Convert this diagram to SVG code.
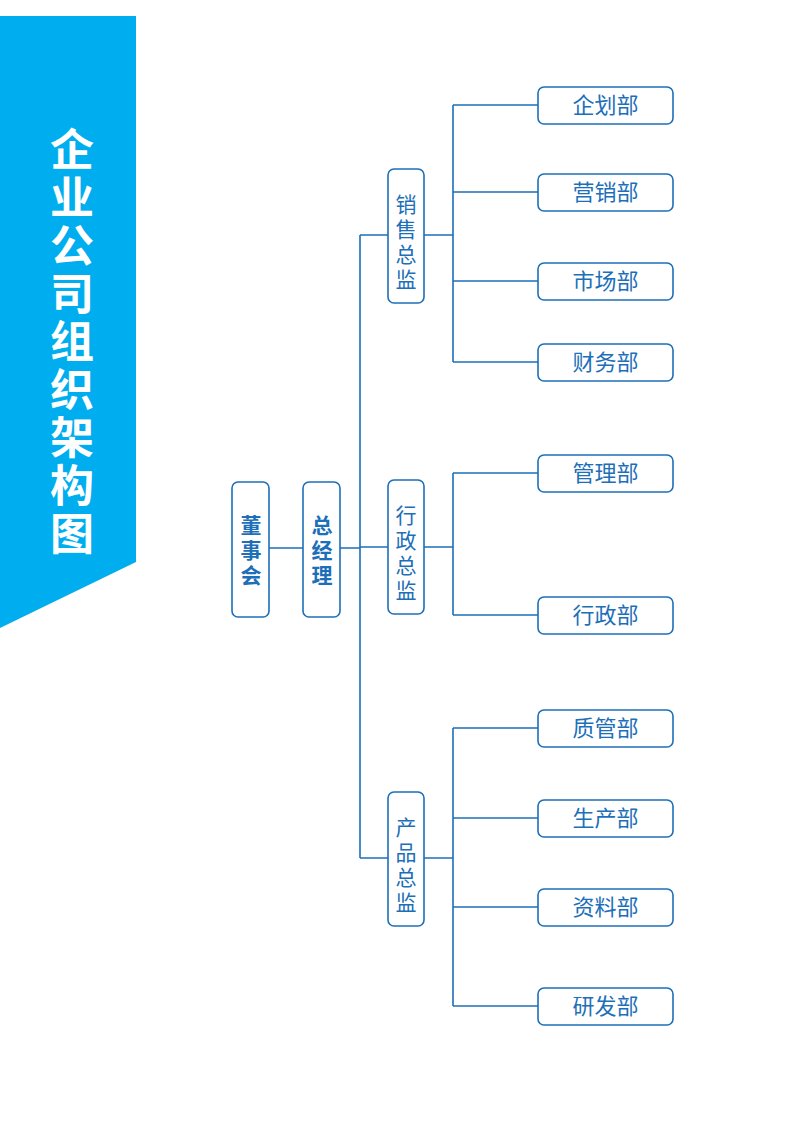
<svg xmlns="http://www.w3.org/2000/svg" width="800" height="1131" viewBox="0 0 800 1131">
<style>
.b{fill:#fff;stroke:#1c6fb8;stroke-width:1.6}
.t{fill:#1c6fb8;font-family:"Noto Sans CJK SC",sans-serif;font-size:22px;text-anchor:middle}
.v{fill:#1c6fb8;font-family:"Noto Sans CJK SC",sans-serif;font-size:21px;text-anchor:middle}
.vb{fill:#1c6fb8;font-family:"Noto Sans CJK SC",sans-serif;font-size:21px;font-weight:bold;text-anchor:middle}
.c{fill:none;stroke:#1c6fb8;stroke-width:1.6}
</style>
<rect width="800" height="1131" fill="#fff"/>
<g id="banner"><polygon points="0,16 136,16 136,562 0,628" fill="#00aeef"/>
<text fill="#fff" font-family="Noto Sans CJK SC,sans-serif" font-size="44" font-weight="bold" text-anchor="middle"><tspan x="72" y="166">企</tspan><tspan x="72" y="214">业</tspan><tspan x="72" y="262">公</tspan><tspan x="72" y="310">司</tspan><tspan x="72" y="358">组</tspan><tspan x="72" y="406">织</tspan><tspan x="72" y="454">架</tspan><tspan x="72" y="502">构</tspan><tspan x="72" y="550">图</tspan></text></g>
<g id="connectors" class="c">
<path d="M269,548H303M340,548H360M360,235V858M360,235H388M360,547H388M360,858H388"/>
<path d="M424,235H453M453,105V362M453,105H538M453,192H538M453,281H538M453,362H538"/>
<path d="M424,547H453M453,473V615M453,473H538M453,615H538"/>
<path d="M424,858H453M453,728V1006M453,728H538M453,818H538M453,907H538M453,1006H538"/>
</g>
<g id="n-board"><rect class="b" x="232" y="482" width="37" height="135" rx="6"/><text class="vb"><tspan x="251" y="533">董</tspan><tspan x="251" y="558">事</tspan><tspan x="251" y="583">会</tspan></text></g>
<g id="n-ceo"><rect class="b" x="303" y="482" width="37" height="135" rx="6"/><text class="vb"><tspan x="322" y="533">总</tspan><tspan x="322" y="558">经</tspan><tspan x="322" y="583">理</tspan></text></g>
<g id="n-sales"><rect class="b" x="388" y="169" width="36" height="134" rx="6"/><text class="v"><tspan x="406" y="212">销</tspan><tspan x="406" y="237">售</tspan><tspan x="406" y="262">总</tspan><tspan x="406" y="287">监</tspan></text></g>
<g id="n-admin"><rect class="b" x="388" y="480" width="36" height="134" rx="6"/><text class="v"><tspan x="406" y="523">行</tspan><tspan x="406" y="548">政</tspan><tspan x="406" y="573">总</tspan><tspan x="406" y="598">监</tspan></text></g>
<g id="n-prod"><rect class="b" x="388" y="792" width="36" height="134" rx="6"/><text class="v"><tspan x="406" y="835">产</tspan><tspan x="406" y="860">品</tspan><tspan x="406" y="885">总</tspan><tspan x="406" y="910">监</tspan></text></g>
<g id="d1"><rect class="b" x="538" y="87" width="135" height="37" rx="6"/><text class="t" x="605.5" y="113">企划部</text></g>
<g id="d2"><rect class="b" x="538" y="174" width="135" height="37" rx="6"/><text class="t" x="605.5" y="200">营销部</text></g>
<g id="d3"><rect class="b" x="538" y="263" width="135" height="37" rx="6"/><text class="t" x="605.5" y="289">市场部</text></g>
<g id="d4"><rect class="b" x="538" y="344" width="135" height="37" rx="6"/><text class="t" x="605.5" y="370">财务部</text></g>
<g id="d5"><rect class="b" x="538" y="455" width="135" height="37" rx="6"/><text class="t" x="605.5" y="481">管理部</text></g>
<g id="d6"><rect class="b" x="538" y="597" width="135" height="37" rx="6"/><text class="t" x="605.5" y="623">行政部</text></g>
<g id="d7"><rect class="b" x="538" y="710" width="135" height="37" rx="6"/><text class="t" x="605.5" y="736">质管部</text></g>
<g id="d8"><rect class="b" x="538" y="800" width="135" height="37" rx="6"/><text class="t" x="605.5" y="826">生产部</text></g>
<g id="d9"><rect class="b" x="538" y="889" width="135" height="37" rx="6"/><text class="t" x="605.5" y="915">资料部</text></g>
<g id="d10"><rect class="b" x="538" y="988" width="135" height="37" rx="6"/><text class="t" x="605.5" y="1014">研发部</text></g>
</svg>
